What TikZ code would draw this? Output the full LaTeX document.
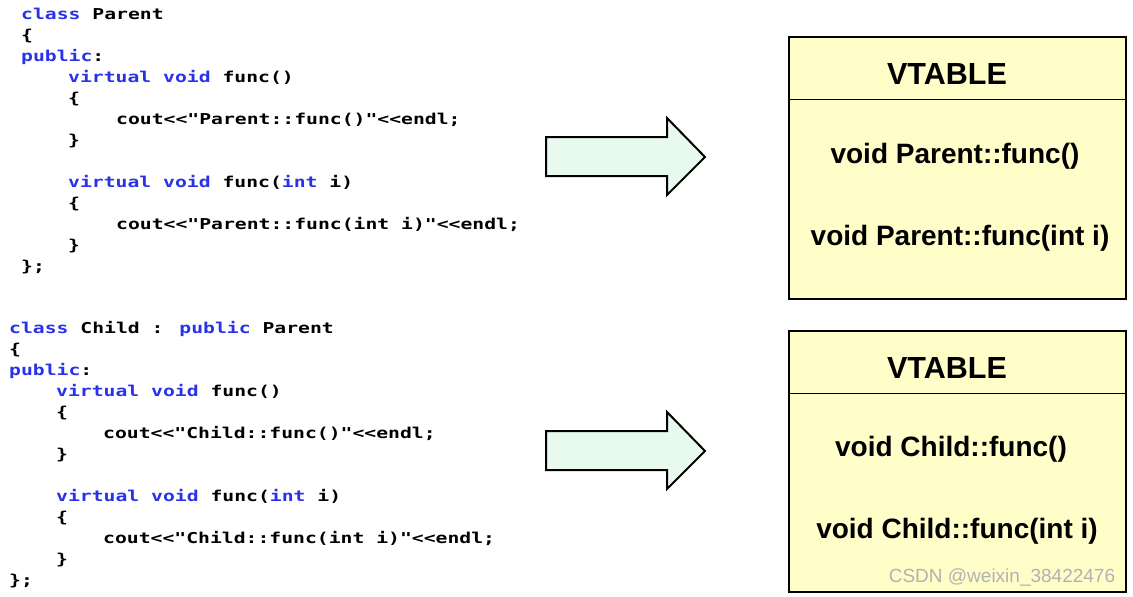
\documentclass[tikz,border=0pt]{standalone}
\usepackage{fontspec}
\setmainfont{Liberation Sans}
\newfontfamily\codefont[FakeStretch=1.315,Ligatures=TeXOff]{DejaVu Sans Mono}
\definecolor{kwblue}{RGB}{40,50,235}
\definecolor{boxfill}{RGB}{255,253,200}
\definecolor{arrfill}{RGB}{232,250,238}
\definecolor{wmgray}{RGB}{178,178,178}
\newcommand\kw[1]{\textcolor{kwblue}{#1}}
\begin{document}
\begin{tikzpicture}[x=1pt,y=-1pt,
  code/.style={anchor=base west,inner sep=0pt,font=\codefont\bfseries\fontsize{15}{18}\selectfont},
  vbox/.style={draw=black,line width=2pt,fill=boxfill},
  vtext/.style={inner sep=0pt,font=\bfseries\fontsize{28}{31}\selectfont},
  vhead/.style={inner sep=0pt,font=\bfseries\fontsize{30.5}{33}\selectfont},
  bigarrow/.style={draw=black,line width=2pt,fill=arrfill,line join=miter},
  wm/.style={inner sep=0pt,text=wmgray,font=\fontsize{19}{22}\selectfont}]
\useasboundingbox[fill=white] (0,0) rectangle (1133,597);

% ---- Parent code ----
\node[code] (p1) at (21,19.5) {\kw{class} Parent};
\node[code] (p2) at (21,40.5) {\{};
\node[code] (p3) at (21,61.5) {\kw{public}:};
\node[code] (p4) at (68,82.5) {\kw{virtual} \kw{void} func()};
\node[code] (p5) at (68,103.5) {\{};
\node[code] (p6) at (116,124.5) {cout<<"Parent::func()"<<endl;};
\node[code] (p7) at (68,145.5) {\}};
\node[code] (p8) at (68,187.5) {\kw{virtual} \kw{void} func(\kw{int} i)};
\node[code] (p9) at (68,208.5) {\{};
\node[code] (p10) at (116,229.5) {cout<<"Parent::func(int i)"<<endl;};
\node[code] (p11) at (68,250.5) {\}};
\node[code] (p12) at (21,271.5) {\};};

% ---- Child code ----
\node[code] (c1) at (9,333.5) {\kw{class} Child : \kw{public} Parent};
\node[code] (c2) at (9,354.5) {\{};
\node[code] (c3) at (9,375.5) {\kw{public}:};
\node[code] (c4) at (56,396.5) {\kw{virtual} \kw{void} func()};
\node[code] (c5) at (56,417.5) {\{};
\node[code] (c6) at (103,438.5) {cout<<"Child::func()"<<endl;};
\node[code] (c7) at (56,459.5) {\}};
\node[code] (c8) at (56,501.5) {\kw{virtual} \kw{void} func(\kw{int} i)};
\node[code] (c9) at (56,522.5) {\{};
\node[code] (c10) at (103,543.5) {cout<<"Child::func(int i)"<<endl;};
\node[code] (c11) at (56,564.5) {\}};
\node[code] (c12) at (9,585.5) {\};};

% ---- arrows ----
\draw[bigarrow] (546,137) -- (667,137) -- (667,118) -- (705,157) -- (667,195) -- (667,176) -- (546,176) -- cycle;
\draw[bigarrow] (546,431) -- (667,431) -- (667,412) -- (705,451) -- (667,489) -- (667,470) -- (546,470) -- cycle;

% ---- VTABLE boxes ----
\draw[vbox] (789,37) rectangle (1126,299);
\draw[line width=1pt] (789,99) -- (1126,99);
\node[vhead] (t1h) at (947,74) {VTABLE};
\node[vtext] (t1a) at (955,156) {void Parent::func()};
\node[vtext] (t1b) at (960,238) {void Parent::func(int i)};

\draw[vbox] (789,331) rectangle (1126,592);
\draw[line width=1pt] (789,393) -- (1126,393);
\node[vhead] (t2h) at (947,368) {VTABLE};
\node[vtext] (t2a) at (951,449) {void Child::func()};
\node[vtext] (t2b) at (957,531) {void Child::func(int i)};

\node[wm] (wm) at (1002,577) {CSDN @weixin\_38422476};
\end{tikzpicture}
\end{document}
